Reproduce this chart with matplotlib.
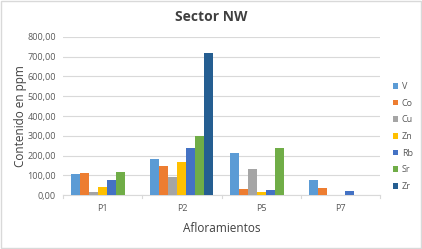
import matplotlib.pyplot as plt
import numpy as np

plt.rcParams['font.family'] = ['Open Sans', 'DejaVu Sans']

categories = ["P1", "P2", "P5", "P7"]
elements = ["V", "Co", "Cu", "Zn", "Rb", "Sr", "Zr"]
V = [108, 183, 215, 77]
Co = [113, 148, 32, 37]
Cu = [18, 94, 131, 0]
Zn = [42, 170, 17, 0]
Rb = [76, 237, 27, 23]
Sr = [116, 298, 237, 0]
Zr = [0, 720, 0, 0]
series = [V, Co, Cu, Zn, Rb, Sr, Zr]
colors = ["#5B9BD5", "#ED7D31", "#A5A5A5", "#FFC000", "#4472C4", "#70AD47", "#255E91"]

fig = plt.figure(figsize=(4.22, 2.49), dpi=100)
ax = fig.add_axes([63 / 422, 1 - 195.3 / 249, (380 - 63) / 422, (195.3 - 36.7) / 249])

x = np.arange(len(categories))
w = 0.114
for i, (name, vals) in enumerate(zip(elements, series)):
    ax.bar(x + (i - 3) * w, vals, w, color=colors[i], label=name, zorder=3)

ax.set_xlim(-0.5, 3.5)
ax.set_ylim(0, 800)
ax.set_yticks(np.arange(0, 801, 100))
ax.set_yticklabels([f"{v:.2f}".replace(".", ",") for v in range(0, 801, 100)])
ax.set_xticks(x)
ax.set_xticklabels(categories)
ax.grid(axis="y", color="#D9D9D9", lw=0.8, zorder=0)
for s in ["top", "right", "left"]:
    ax.spines[s].set_visible(False)
ax.spines["bottom"].set_color("#D9D9D9")
ax.tick_params(axis="y", length=0, labelsize=6.5, colors="#595959", pad=5)
ax.tick_params(axis="x", length=0, labelsize=6.5, colors="#595959", pad=6)
for b in np.arange(-0.5, 3.6, 1):
    ax.plot([b, b], [0, -12], color="#D9D9D9", lw=0.8, clip_on=False)

ax.set_ylabel("Contenido en ppm", fontsize=8.5, color="#404040", labelpad=0)
ax.set_xlabel("Afloramientos", fontsize=8.5, color="#404040", labelpad=7)
fig.text(0.5, 1 - 17 / 249, "Sector NW", ha="center", va="center",
         fontsize=10, fontweight="bold", color="#404040")

leg = ax.legend(loc="center left", bbox_to_anchor=(1.015, 0.37), frameon=False,
                fontsize=6.5, handlelength=0.6, handleheight=0.6,
                labelspacing=0.85, handletextpad=0.4)
for t in leg.get_texts():
    t.set_color("#595959")

fig.patches.append(plt.Rectangle((0.002, 0.004), 0.996, 0.992, transform=fig.transFigure,
                                 fill=False, edgecolor="#D9D9D9", lw=1))
fig.savefig("out.png", dpi=100)
